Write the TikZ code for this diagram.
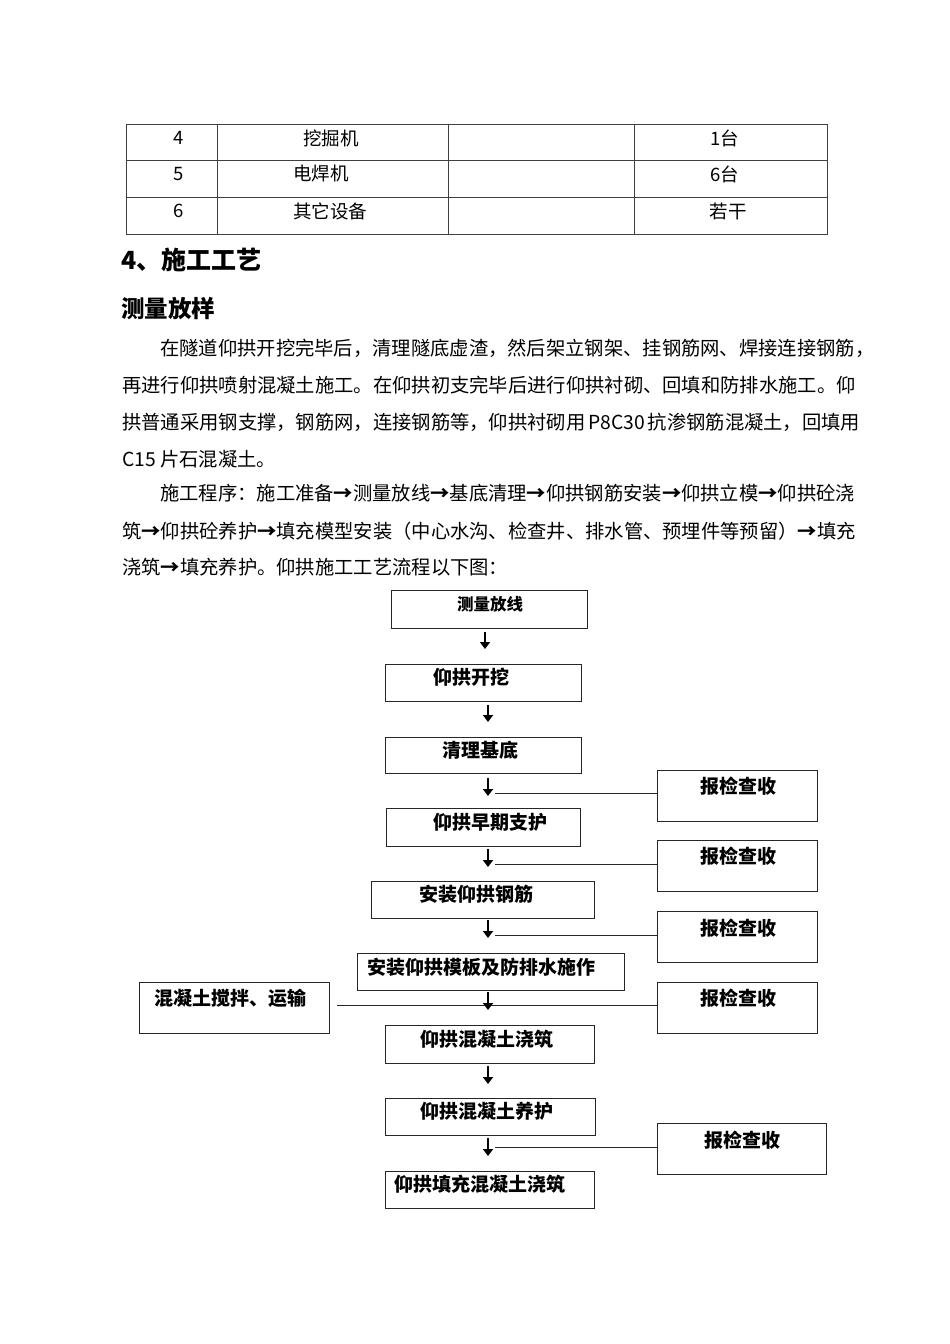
\documentclass[tikz,border=0pt]{standalone}
\usepackage{fontspec}
\setmainfont{Noto Sans CJK SC}
\usetikzlibrary{arrows.meta,calc}
\newcommand\myar{{\bfseries →}}
\begin{document}
\begin{tikzpicture}[x=1pt,y=-1pt,
 box/.style={draw=black!85,line width=0.9pt,rectangle,inner sep=0pt},
 ftxt/.style={font=\fontsize{19}{19}\selectfont\bfseries,inner sep=0pt},
 btxt/.style={font=\fontsize{19.3}{19.3}\selectfont,inner sep=0pt,anchor=west},
 ttxt/.style={font=\fontsize{18.5}{18.5}\selectfont,inner sep=0pt},
 arr/.style={-{Triangle[width=10pt,length=7pt]},line width=2pt},
 conn/.style={line width=0.9pt,draw=black!85},
 tline/.style={line width=0.8pt,draw=black!75}]
\useasboundingbox (0,0) rectangle (950,1344);
% table
\draw[tline] (126,124) rectangle (827,234);
\draw[tline] (126,160) -- (827,160) (126,197) -- (827,197);
\draw[tline] (217,124) -- (217,234) (448,124) -- (448,234) (634,124) -- (634,234);
\node[ttxt] (c11) at (179,138) {4};
\node[ttxt] (c12) at (331,138) {挖掘机};
\node[ttxt] (c14) at (725,138) {1台};
\node[ttxt] (c21) at (179,174) {5};
\node[ttxt] (c22) at (321,174) {电焊机};
\node[ttxt] (c24) at (725,174) {6台};
\node[ttxt] (c31) at (179,211) {6};
\node[ttxt] (c32) at (330,211) {其它设备};
\node[ttxt] (c34) at (728,211) {若干};
% headings
\node[font=\fontsize{25}{25}\selectfont\bfseries,inner sep=0pt,anchor=west] (h1) at (121,260) {4、施工工艺};
\node[font=\fontsize{23.5}{23.5}\selectfont\bfseries,inner sep=0pt,anchor=west] (h2) at (121,309) {测量放样};
% body
\node[btxt] (l1) at (160,348) {在隧道仰拱开挖完毕后，清理隧底虚渣，然后架立钢架、挂钢筋网、焊接连接钢筋，};
\node[btxt] (l2) at (122,385) {再进行仰拱喷射混凝土施工。在仰拱初支完毕后进行仰拱衬砌、回填和防排水施工。仰};
\node[btxt] (l3) at (122,422) {\makebox[736pt][s]{拱普通采用钢支撑，钢筋网，连接钢筋等，仰拱衬砌用 P8C30 抗渗钢筋混凝土，回填用}};
\node[btxt] (l4) at (122,459) {C15 片石混凝土。};
\node[btxt] (l5) at (160,493) {施工程序：施工准备\myar 测量放线\myar 基底清理\myar 仰拱钢筋安装\myar 仰拱立模\myar 仰拱砼浇};
\node[btxt] (l6) at (122,531) {筑\myar 仰拱砼养护\myar 填充模型安装（中心水沟、检查井、排水管、预埋件等预留）\myar 填充};
\node[btxt] (l7) at (122,567) {浇筑\myar 填充养护。仰拱施工工艺流程以下图：};
% flow boxes
\node[box,minimum width=196pt,minimum height=38pt] (b1) at (489,609) {};
\node[box,minimum width=196pt,minimum height=37pt] (b2) at (483,682.5) {};
\node[box,minimum width=196pt,minimum height=36pt] (b3) at (483,755) {};
\node[box,minimum width=194pt,minimum height=38pt] (b4) at (483,827) {};
\node[box,minimum width=223pt,minimum height=37pt] (b5) at (482.5,899.5) {};
\node[box,minimum width=267pt,minimum height=37pt] (b6) at (490.5,971.5) {};
\node[box,minimum width=209pt,minimum height=38pt] (b7) at (489.5,1044) {};
\node[box,minimum width=210pt,minimum height=37pt] (b8) at (490,1116.5) {};
\node[box,minimum width=209pt,minimum height=37pt] (b9) at (489.5,1189.5) {};
\node[box,minimum width=160pt,minimum height=51pt] (r1) at (737,795.5) {};
\node[box,minimum width=160pt,minimum height=51pt] (r2) at (737,865.5) {};
\node[box,minimum width=160pt,minimum height=51pt] (r3) at (737,936.5) {};
\node[box,minimum width=160pt,minimum height=51pt] (r4) at (737,1007.5) {};
\node[box,minimum width=169pt,minimum height=51pt] (r5) at (741.5,1148.5) {};
\node[box,minimum width=190pt,minimum height=51pt] (m) at (234,1007.5) {};
% flow texts
\node[ftxt,font=\fontsize{16.5}{16.5}\selectfont\bfseries] (t1) at (490,604) {测量放线};
\node[ftxt] (t2) at (471,677) {仰拱开挖};
\node[ftxt] (t3) at (480,750) {清理基底};
\node[ftxt] (t4) at (490,822) {仰拱早期支护};
\node[ftxt] (t5) at (476,894) {安装仰拱钢筋};
\node[ftxt] (t6) at (481,967) {安装仰拱模板及防排水施作};
\node[ftxt] (t7) at (487,1039) {仰拱混凝土浇筑};
\node[ftxt] (t8) at (487,1111) {仰拱混凝土养护};
\node[ftxt] (t9) at (480,1184) {仰拱填充混凝土浇筑};
\node[ftxt] (s1) at (738,786) {报检查收};
\node[ftxt] (s2) at (738,856) {报检查收};
\node[ftxt] (s3) at (738,928) {报检查收};
\node[ftxt] (s4) at (738,998) {报检查收};
\node[ftxt] (s5) at (742,1140) {报检查收};
\node[ftxt] (mt) at (230,998) {混凝土搅拌、运输};
% arrow coordinates
\coordinate (a1s) at (485,632); \coordinate (a1e) at (485,649);
\coordinate (a2s) at (488,705); \coordinate (a2e) at (488,722);
\coordinate (a3s) at (488,778); \coordinate (a3e) at (488,796);
\coordinate (a4s) at (488,849); \coordinate (a4e) at (488,867);
\coordinate (a5s) at (488,920); \coordinate (a5e) at (488,938);
\coordinate (a6s) at (488,992); \coordinate (a6e) at (488,1010);
\coordinate (a7s) at (488,1066); \coordinate (a7e) at (488,1084);
\coordinate (a8s) at (488,1138); \coordinate (a8e) at (488,1156);
% side lines
\coordinate (j3) at (495,793); \coordinate (j4) at (495,864);
\coordinate (j5) at (495,935); \coordinate (j6) at (337,1005);
\coordinate (j8) at (495,1147);
\draw[conn] (j3) -- (j3 -| r1.west);
\draw[conn] (j4) -- (j4 -| r2.west);
\draw[conn] (j5) -- (j5 -| r3.west);
\draw[conn] (j6) -- (j6 -| r4.west);
\draw[conn] (j8) -- (j8 -| r5.west);
% arrows
\foreach \i in {1,...,8} {\draw[arr] (a\i s) -- (a\i e);}
\end{tikzpicture}
\end{document}
